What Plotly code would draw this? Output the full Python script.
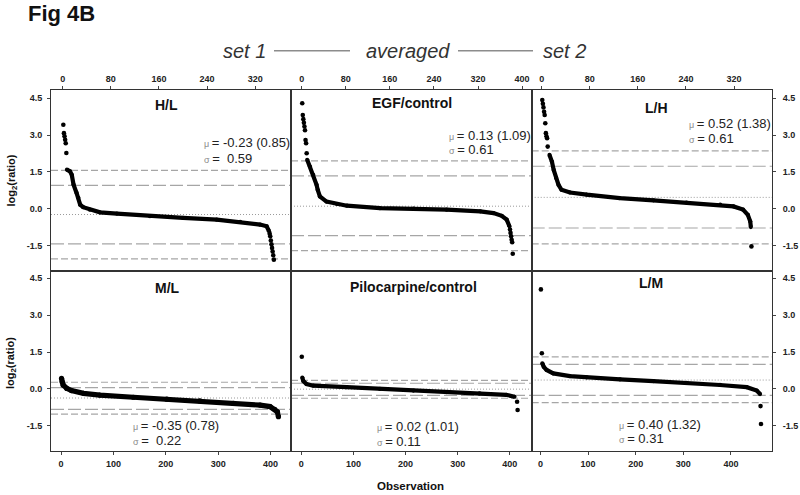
import plotly.graph_objects as go

# ---------------- data ----------------
panel_names = ["H/L", "EGF/control", "L/H", "M/L", "Pilocarpine/control", "L/M"]

# sorted log2 ratios: dense part ("band") and separately visible dots
HL_band_obs = [7, 12, 15, 18, 23, 26, 29, 34, 45, 62, 90, 145, 200, 256, 295, 328, 339, 343]
HL_band_val = [1.59, 1.52, 1.38, 0.98, 0.64, 0.44, 0.16, 0.06, -0.04, -0.15, -0.20, -0.31, -0.38, -0.45, -0.54, -0.65, -0.72, -0.92]
HL_dot_obs = [1, 2, 3, 4, 5, 6, 344, 345, 346, 347, 348, 349, 350, 351]
HL_dot_val = [3.42, 3.08, 2.95, 2.81, 2.67, 2.27, -1.02, -1.13, -1.30, -1.45, -1.60, -1.75, -1.90, -2.08]

EGF_band_obs = [10, 15, 21, 27, 29, 33, 45, 64, 82, 142, 203, 263, 324, 348, 363, 372, 377]
EGF_band_val = [1.99, 1.72, 1.38, 0.97, 0.77, 0.50, 0.29, 0.19, 0.12, 0.02, 0.00, -0.04, -0.11, -0.18, -0.29, -0.45, -0.72]
EGF_dot_obs = [1, 2, 3, 4, 5, 6, 7, 8, 9, 378, 379, 380, 381, 382, 383]
EGF_dot_val = [4.30, 3.82, 3.65, 3.50, 3.35, 3.20, 2.80, 2.67, 2.26, -0.85, -0.99, -1.13, -1.27, -1.37, -1.84]

LH_band_obs = [13, 17, 20, 24, 28, 33, 47, 75, 130, 186, 241, 297, 319, 335, 343, 347, 348]
LH_band_val = [2.19, 1.92, 1.58, 1.25, 0.97, 0.77, 0.66, 0.57, 0.43, 0.34, 0.25, 0.16, 0.09, -0.04, -0.25, -0.52, -0.75]
LH_dot_obs = [1, 2, 3, 4, 5, 6, 7, 8, 9, 10, 349]
LH_dot_val = [4.43, 4.28, 4.13, 3.95, 3.82, 3.48, 3.08, 2.95, 2.87, 2.53, -1.54]

ML_band_obs = [1, 2, 4, 11, 20, 43, 74, 138, 202, 265, 329, 380, 399, 408, 413, 415]
ML_band_val = [0.43, 0.29, 0.16, 0.02, -0.07, -0.18, -0.25, -0.34, -0.42, -0.49, -0.59, -0.66, -0.72, -0.83, -0.93, -1.13]
ML_dot_obs = []
ML_dot_val = []

PILO_band_obs = [2, 4, 10, 23, 87, 151, 215, 278, 342, 393, 409]
PILO_band_val = [0.46, 0.32, 0.20, 0.13, 0.07, 0.00, -0.07, -0.13, -0.18, -0.24, -0.32]
PILO_dot_obs = [1, 414, 415]
PILO_dot_val = [1.31, -0.52, -0.86]

LM_band_obs = [4, 7, 13, 27, 62, 97, 167, 237, 307, 377, 433, 454, 461]
LM_band_val = [1.04, 0.90, 0.77, 0.63, 0.52, 0.47, 0.39, 0.32, 0.25, 0.16, 0.07, -0.07, -0.21]
LM_dot_obs = [1, 3, 462, 463]
LM_dot_val = [4.05, 1.45, -0.70, -1.43]

# reference lines: +3sd, +2sd, mean, -2sd, -3sd
HL_ref = [1.56, 0.95, -0.24, -1.44, -2.05]
EGF_ref = [1.95, 1.34, 0.10, -1.10, -1.71]
LH_ref = [2.36, 1.73, 0.46, -0.79, -1.44]
ML_ref = [0.27, 0.05, -0.37, -0.83, -1.03]
PILO_ref = [0.35, 0.23, -0.01, -0.26, -0.38]
LM_ref = [1.30, 1.00, 0.36, -0.26, -0.56]

means = [-0.23, 0.13, 0.52, -0.35, 0.02, 0.40]
folds = [0.85, 1.09, 1.38, 0.78, 1.01, 1.32]
sds = [0.59, 0.61, 0.61, 0.22, 0.11, 0.31]

top_ticks_a = [0, 80, 160, 240, 320]
top_ticks_b = [0, 80, 160, 240, 320, 400]
bottom_ticks = [0, 100, 200, 300, 400]
y_ticks = [-1.5, 0.0, 1.5, 3.0, 4.5]
y_tick_text = ["-1.5", "0.0", "1.5", "3.0", "4.5"]

# ---------------- layout helpers ----------------
W, H = 800, 495
FONT = "Liberation Sans, Arial, sans-serif"


def px(x):
    return x / W


def py(y):
    return 1 - y / H


bands = [(HL_band_obs, HL_band_val), (EGF_band_obs, EGF_band_val), (LH_band_obs, LH_band_val),
         (ML_band_obs, ML_band_val), (PILO_band_obs, PILO_band_val), (LM_band_obs, LM_band_val)]
dots = [(HL_dot_obs, HL_dot_val), (EGF_dot_obs, EGF_dot_val), (LH_dot_obs, LH_dot_val),
        (ML_dot_obs, ML_dot_val), (PILO_dot_obs, PILO_dot_val), (LM_dot_obs, LM_dot_val)]
refs = [HL_ref, EGF_ref, LH_ref, ML_ref, PILO_ref, LM_ref]

col_px = [(51, 291), (291, 531.7), (531.7, 772)]
row_px = [(90, 271), (271, 451)]
x_ranges = [(-19.5, 379.5), (-19.4, 417.4), (-16.6, 383.2),
            (-19.1, 439.0), (-19.7, 442.0), (-18.3, 486.1)]
y_ranges = [(-2.543, 4.839), (-2.527, 4.798)]
band_widths = [4.2, 4.2, 4.2, 5.2, 4.2, 4.2]

fig = go.Figure()
layout = dict(
    width=W, height=H, autosize=False,
    margin=dict(l=0, r=0, t=0, b=0),
    paper_bgcolor="white", plot_bgcolor="white",
    showlegend=False,
    font=dict(family=FONT, color="#222"),
)

shapes = []
annotations = []

for i in range(6):
    r, c = divmod(i, 3)
    n = "" if i == 0 else str(i + 1)
    xa, ya = "x" + n, "y" + n
    bo, bv = bands[i]
    do, dv = dots[i]
    fig.add_trace(go.Scatter(x=bo, y=bv, mode="lines+markers", xaxis=xa, yaxis=ya,
                             line=dict(color="black", width=band_widths[i]),
                             marker=dict(color="black", size=band_widths[i]),
                             hoverinfo="skip"))
    if do:
        fig.add_trace(go.Scatter(x=do, y=dv, mode="markers", xaxis=xa, yaxis=ya,
                                 marker=dict(color="black", size=4.6),
                                 hoverinfo="skip"))
    x0, x1 = col_px[c]
    y0, y1 = row_px[r]
    if r == 0:
        tv = top_ticks_b if c == 1 else top_ticks_a
        side = "top"
        stand = 0
    else:
        tv = bottom_ticks
        side = "bottom"
        stand = 1
    layout["xaxis" + n] = dict(
        domain=[px(x0), px(x1)], range=list(x_ranges[i]), anchor=ya, side=side,
        tickmode="array", tickvals=tv, ticks="outside", ticklen=3, tickcolor="#444",
        tickfont=dict(family=FONT, size=9, color="#222", weight="bold"),
        ticklabelstandoff=stand,
        showline=True, mirror=True, linecolor="#333", linewidth=1,
        showgrid=False, zeroline=False, fixedrange=True)
    ydict = dict(
        domain=[py(y1), py(y0)], range=list(y_ranges[r]), anchor=xa,
        tickmode="array", tickvals=y_ticks, ticktext=y_tick_text,
        showline=True, mirror=True, linecolor="#333", linewidth=1,
        showgrid=False, zeroline=False, fixedrange=True,
        tickfont=dict(family=FONT, size=9, color="#222", weight="bold"))
    if c == 0:
        ydict.update(side="left", ticks="outside", ticklen=3, tickcolor="#444",
                     showticklabels=True, ticklabelstandoff=3)
    elif c == 2:
        ydict.update(side="right", ticks="outside", ticklen=3, tickcolor="#444",
                     showticklabels=True, ticklabelstandoff=5)
    else:
        ydict.update(ticks="", showticklabels=False)
    layout["yaxis" + n] = ydict

    # reference lines
    styles = [("7px,3px", "#a6a6a6", 1.2), ("13px,4px", "#a6a6a6", 1.2), ("1px,2px", "#9a9a9a", 1),
              ("13px,4px", "#a6a6a6", 1.2), ("7px,3px", "#a6a6a6", 1.2)]
    for val, (dash, col, w) in zip(refs[i], styles):
        shapes.append(dict(type="line", xref=xa + " domain", yref=ya, x0=0, x1=1, y0=val, y1=val,
                           line=dict(color=col, width=w, dash=dash), layer="below"))

# panel titles
title_pos = [(166, 105.3), (411.7, 103.3), (656, 108.3), (167, 288), (413, 286.7), (650.5, 283.3)]
for name, (tx, ty) in zip(panel_names, title_pos):
    annotations.append(dict(text=name, x=px(tx), y=py(ty), xref="paper", yref="paper",
                            showarrow=False, xanchor="center", yanchor="middle",
                            font=dict(family=FONT, size=14, color="#111", weight="bold")))

# statistics text
stat_pos = [(202, 142.7, 158.3), (446.7, 135, 150), (687.3, 123.3, 138.3),
            (131, 425, 440.7), (375, 426.7, 441.7), (616.7, 424.3, 438.3)]
for m, f, s, (sx, s1, s2) in zip(means, folds, sds, stat_pos):
    pad = "&nbsp;" if m < 0 else ""
    t1 = "<span style='font-size:9px;color:#8a8a8a'>μ</span>\u2009= %.2f (%.2f)" % (m, f)
    t2 = "<span style='font-size:9px;color:#8a8a8a'>σ</span>\u2009= %s%.2f" % (pad, s)
    for t, yy in ((t1, s1), (t2, s2)):
        annotations.append(dict(text=t, x=px(sx), y=py(yy), xref="paper", yref="paper",
                                showarrow=False, xanchor="left", yanchor="middle",
                                font=dict(family=FONT, size=13, color="#222")))

# axis titles
for yy in (180.5, 363):
    annotations.append(dict(text="log<sub>2</sub>(ratio)", x=px(11), y=py(yy), xref="paper", yref="paper",
                            showarrow=False, textangle=-90, xanchor="center", yanchor="middle",
                            font=dict(family=FONT, size=11, color="#111", weight="bold")))
annotations.append(dict(text="Observation", x=px(410.5), y=py(486), xref="paper", yref="paper",
                        showarrow=False, xanchor="center", yanchor="middle",
                        font=dict(family=FONT, size=11.5, color="#111", weight="bold")))

# figure label and header
annotations.append(dict(text="Fig 4B", x=px(26), y=py(14), xref="paper", yref="paper",
                        showarrow=False, xanchor="left", yanchor="middle",
                        font=dict(family=FONT, size=22, color="#111", weight="bold")))
for txt, cx in (("set 1", 244.7), ("averaged", 408), ("set 2", 564)):
    annotations.append(dict(text="<i>" + txt + "</i>", x=px(cx), y=py(51), xref="paper", yref="paper",
                            showarrow=False, xanchor="center", yanchor="middle",
                            font=dict(family=FONT, size=20, color="#333")))
for xa0, xa1 in ((274, 350), (458, 533)):
    shapes.append(dict(type="line", xref="paper", yref="paper", x0=px(xa0), x1=px(xa1),
                       y0=py(50.7), y1=py(50.7), line=dict(color="#8c8c8c", width=1.5)))

layout["shapes"] = shapes
layout["annotations"] = annotations
fig.update_layout(**layout)
fig.write_html("out.html", config={"displayModeBar": False, "staticPlot": True},
               post_script="document.body.style.margin='0';document.body.style.overflow='hidden';")
